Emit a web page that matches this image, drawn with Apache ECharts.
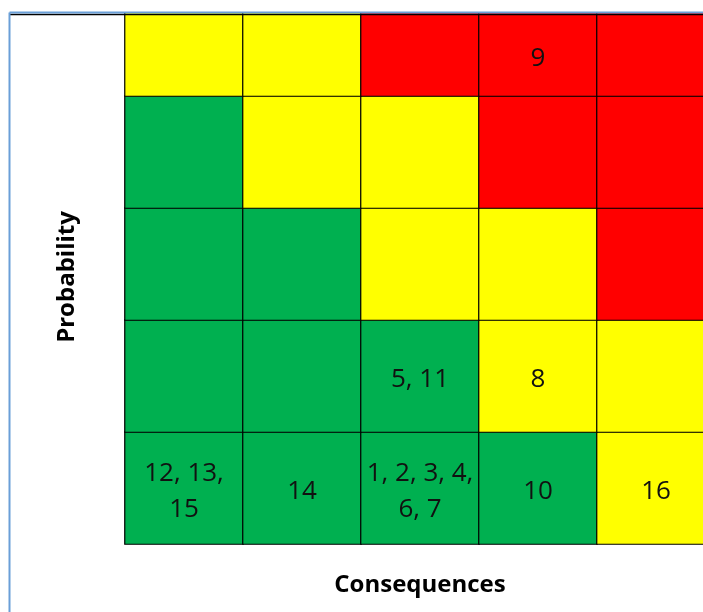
<!DOCTYPE html>
<html>
<head>
<meta charset="utf-8">
<script src="https://cdn.jsdelivr.net/npm/echarts@6/dist/echarts.min.js"></script>
<style>
html,body{margin:0;padding:0;background:#fff;}
#chart{width:703px;height:612px;}
</style>
</head>
<body>
<div id="chart"></div>
<script>
// Categories (consequence columns left→right, probability rows bottom→top)
const consequences = ['1', '2', '3', '4', '5'];
const probability = ['1', '2', '3', '4', '5'];

// Risk level per cell: 0 = low (green), 1 = medium (yellow), 2 = high (red)
// rows listed from probability 1 (bottom) to 5 (top)
const riskRow1 = [0, 0, 0, 0, 1];
const riskRow2 = [0, 0, 0, 1, 1];
const riskRow3 = [0, 0, 1, 1, 2];
const riskRow4 = [0, 1, 1, 2, 2];
const riskRow5 = [1, 1, 2, 2, 2];

// Risk IDs placed in each cell
const idsRow1 = ['12, 13,\n15', '14', '1, 2, 3, 4,\n6, 7', '10', '16'];
const idsRow2 = ['', '', '5, 11', '8', ''];
const idsRow3 = ['', '', '', '', ''];
const idsRow4 = ['', '', '', '', ''];
const idsRow5 = ['', '', '', '9', ''];

const levelColors = ['#00B050', '#FFFF00', '#FF0000'];

const riskRows = [riskRow1, riskRow2, riskRow3, riskRow4, riskRow5];
const idRows = [idsRow1, idsRow2, idsRow3, idsRow4, idsRow5];

const data = [];
riskRows.forEach((row, yi) => {
  row.forEach((lvl, xi) => {
    const item = {
      value: [xi, yi, lvl],
      name: idRows[yi][xi],
      itemStyle: { color: levelColors[lvl] }
    };
    // top row is only partly visible: centre its label in the visible part
    if (yi === riskRows.length - 1) item.label = { offset: [0, 19] };
    data.push(item);
  });
});

const chart = echarts.init(document.getElementById('chart'));
chart.setOption({
  animation: false,
  backgroundColor: '#ffffff',
  grid: { left: 125, top: -16, width: 590, height: 560, outerBoundsMode: 'none' },
  xAxis: { type: 'category', data: consequences, show: false },
  yAxis: { type: 'category', data: probability, show: false },
  series: [{
    type: 'heatmap',
    data: data,
    itemStyle: { borderColor: '#000000', borderWidth: 1.2 },
    label: {
      show: true,
      formatter: p => p.name,
      fontFamily: 'Open Sans',
      fontSize: 26,
      lineHeight: 36,
      offset: [0, 4],
      color: '#111111'
    },
    emphasis: { disabled: true }
  }],
  graphic: [
    { type: 'rect', z: 100, shape: { x: 0, y: 0, width: 703, height: 13 }, style: { fill: '#ffffff' } },
    { type: 'line', z: 101, shape: { x1: 10, y1: 14.5, x2: 703, y2: 14.5 }, style: { stroke: '#000000', lineWidth: 1.5 } },
    { type: 'line', z: 102, shape: { x1: 9.5, y1: 12.5, x2: 703, y2: 12.5 }, style: { stroke: '#6A9FD8', lineWidth: 2 } },
    { type: 'line', z: 102, shape: { x1: 9.5, y1: 12.5, x2: 9.5, y2: 612 }, style: { stroke: '#6A9FD8', lineWidth: 2 } },
    { type: 'text', z: 103, x: 420, y: 585,
      style: { text: 'Consequences', fontFamily: 'Open Sans', fontWeight: 'bold', fontSize: 24, fill: '#000000', textAlign: 'center', textVerticalAlign: 'middle' } },
    { type: 'text', z: 103, x: 67, y: 277, rotation: Math.PI / 2,
      style: { text: 'Probability', fontFamily: 'Open Sans', fontWeight: 'bold', fontSize: 24, fill: '#000000', textAlign: 'center', textVerticalAlign: 'middle' } }
  ]
});
</script>
</body>
</html>
